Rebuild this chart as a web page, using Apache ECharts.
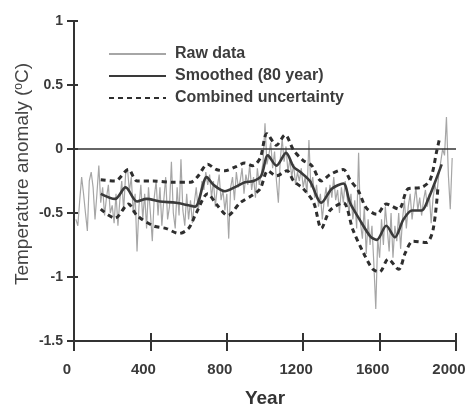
<!DOCTYPE html>
<html>
<head>
<meta charset="utf-8">
<script src="https://cdn.jsdelivr.net/npm/echarts@6/dist/echarts.min.js"></script>
<style>
  html, body { margin: 0; padding: 0; background: #fff; }
  #chart { width: 468px; height: 408px; }
</style>
</head>
<body>
<div id="chart"></div>
<script>
// raw reconstruction, one value every 10 years (10 .. 1980)
const rawStart = 10;
const rawStep = 10;
const rawValues = [
  -0.55, -0.60, -0.40, -0.22, -0.35, -0.50, -0.64, -0.25, -0.18, -0.30,
  -0.55, -0.35, -0.13, -0.42, -0.30, -0.52, -0.38, -0.28, -0.50, -0.44,
  -0.58, -0.35, -0.60, -0.40, -0.25, -0.48, -0.20, -0.15, -0.33, -0.22,
  -0.50, -0.35, -0.80, -0.45, -0.28, -0.55, -0.35, -0.62, -0.30, -0.50,
  -0.72, -0.38, -0.25, -0.52, -0.30, -0.60, -0.40, -0.22, -0.55, -0.45,
  -0.10, -0.50, -0.62, -0.30, -0.52, -0.08, -0.48, -0.60, -0.35, -0.55,
  -0.40, -0.58, -0.42, -0.30, -0.48, -0.38, -0.25, -0.32, -0.18, -0.28,
  -0.20, -0.38, -0.25, -0.45, -0.30, -0.20, -0.40, -0.32, -0.48, -0.35,
  -0.70, -0.30, -0.22, -0.40, -0.18, -0.30, -0.25, -0.15, -0.35, -0.20,
  -0.28, -0.12, -0.32, -0.22, -0.38, -0.15, -0.28, -0.20, -0.10, 0.20,
  -0.12, -0.05, 0.05, -0.15, -0.02, -0.25, -0.42, -0.08, 0.08, -0.10,
  0.02, -0.18, -0.08, -0.22, -0.12, -0.28, -0.18, -0.25, -0.15, -0.30,
  -0.22, -0.35, 0.07, -0.30, -0.22, -0.38, -0.28, -0.45, -0.35, -0.55,
  -0.40, -0.30, -0.45, -0.28, -0.38, -0.22, -0.40, -0.32, -0.50, -0.30,
  -0.42, -0.25, -0.38, -0.50, -0.35, -0.55, -0.40, -0.62, -0.03, -0.58,
  -0.70, -0.45, -0.82, -0.55, -0.75, -0.60, -0.90, -1.25, -0.70, -0.85,
  -0.55, -0.75, -0.45, -0.62, -0.80, -0.50, -0.85, -0.60, -0.72, -0.50,
  -0.78, -0.55, -0.40, -0.62, -0.45, -0.35, -0.55, -0.42, -0.30, -0.48,
  -0.38, -0.52, -0.40, -0.32, -0.45, -0.35, -0.58, -0.38, -0.28, -0.35,
  -0.20, -0.10, 0.00, -0.05, 0.25, -0.20, -0.47, -0.07
];

const smoothYears = [140, 215, 270, 330, 380, 450, 535, 600, 635, 695, 730, 790, 840, 895, 940, 980, 1015, 1060, 1110, 1150, 1185, 1235, 1295, 1350, 1410, 1445, 1495, 1550, 1585, 1635, 1680, 1725, 1770, 1820, 1855, 1890, 1925];
const smoothValues = [-0.35, -0.39, -0.30, -0.41, -0.39, -0.41, -0.42, -0.44, -0.45, -0.22, -0.28, -0.33, -0.30, -0.26, -0.25, -0.21, -0.05, -0.13, -0.03, -0.14, -0.18, -0.25, -0.42, -0.31, -0.27, -0.42, -0.55, -0.68, -0.71, -0.60, -0.69, -0.55, -0.48, -0.48, -0.39, -0.26, -0.12];

const upperYears = [140, 215, 285, 330, 415, 520, 610, 645, 700, 745, 790, 845, 895, 935, 975, 1010, 1060, 1105, 1150, 1200, 1245, 1295, 1340, 1410, 1445, 1490, 1530, 1585, 1635, 1700, 1750, 1820, 1865, 1900, 1915];
const upperValues = [-0.24, -0.25, -0.16, -0.25, -0.25, -0.26, -0.26, -0.22, -0.12, -0.16, -0.17, -0.14, -0.11, -0.13, -0.07, 0.12, 0.03, 0.11, -0.01, -0.09, -0.13, -0.25, -0.20, -0.16, -0.24, -0.33, -0.46, -0.51, -0.43, -0.47, -0.31, -0.30, -0.24, -0.01, 0.09];

const lowerYears = [140, 215, 285, 330, 415, 480, 550, 600, 640, 700, 750, 805, 870, 935, 975, 1015, 1060, 1115, 1150, 1200, 1255, 1295, 1340, 1410, 1460, 1515, 1565, 1600, 1645, 1700, 1735, 1775, 1845, 1880, 1905];
const lowerValues = [-0.47, -0.54, -0.43, -0.52, -0.60, -0.62, -0.66, -0.62, -0.50, -0.35, -0.44, -0.52, -0.42, -0.36, -0.31, -0.17, -0.21, -0.17, -0.25, -0.31, -0.42, -0.62, -0.48, -0.42, -0.63, -0.81, -0.94, -0.96, -0.86, -0.94, -0.81, -0.72, -0.73, -0.63, -0.31];

const yearTicks = [0, 400, 800, 1200, 1600, 2000];
const anomalyTicks = [-1.5, -1, -0.5, 0, 0.5, 1];

const pairs = (xs, ys) => xs.map((x, i) => [x, ys[i]]);
const rawData = rawValues.map((v, i) => [rawStart + i * rawStep, v]);

const axisColor = '#333';
const font = 'Liberation Sans, Arial, sans-serif';

const chart = echarts.init(document.getElementById('chart'));
chart.setOption({
  animation: false,
  backgroundColor: '#fff',
  grid: { left: 74, right: 12, top: 21, bottom: 67, outerBoundsMode: 'none', containLabel: false },
  legend: {
    orient: 'vertical',
    left: 103,
    top: 41,
    itemWidth: 57,
    itemHeight: 14,
    itemGap: 6,
    itemStyle: { opacity: 0 },
    data: ['Raw data', 'Smoothed (80 year)', 'Combined uncertainty'],
    textStyle: { fontFamily: font, fontSize: 16, fontWeight: 'bold', color: '#3c3c3c', lineHeight: 16, padding: [0, 0, 0, 4] }
  },
  xAxis: [{
    type: 'value',
    min: 0, max: 2000, interval: 400,
    name: 'Year',
    nameLocation: 'middle',
    nameGap: 48,
    nameMoveOverlap: false,
    nameTextStyle: { fontFamily: font, fontSize: 19, fontWeight: 'bold', color: '#333' },
    splitLine: { show: false },
    axisLine: { onZero: false, lineStyle: { color: axisColor, width: 2 } },
    axisTick: { length: 10, lineStyle: { color: axisColor, width: 2 } },
    axisLabel: {
      margin: 21, fontFamily: font, fontSize: 15, fontWeight: 'bold', color: '#3a3a3a',
      padding: [0, 14, 0, 0],
      formatter: v => yearTicks.includes(v) ? String(v) : ''
    }
  }, {
    type: 'value', position: 'bottom',
    min: 0, max: 2000, interval: 400,
    splitLine: { show: false },
    axisLine: { show: false, onZero: false },
    axisLabel: { show: false },
    axisTick: { inside: true, length: 8, lineStyle: { color: axisColor, width: 2 } }
  }],
  yAxis: [{
    type: 'value',
    min: -1.5, max: 1, interval: 0.5,
    name: 'Temperature anomaly ({sup|o}C)',
    nameLocation: 'middle',
    nameGap: 42,
    nameMoveOverlap: false,
    nameTextStyle: {
      fontFamily: font, fontSize: 19, color: '#444',
      padding: [0, 0, 0, 14],
      rich: { sup: { fontFamily: font, fontSize: 12, color: '#444', verticalAlign: 'top', lineHeight: 12 } }
    },
    splitLine: { show: false },
    axisLine: { onZero: false, lineStyle: { color: axisColor, width: 2 } },
    axisTick: { length: 7, lineStyle: { color: axisColor, width: 2 } },
    axisLabel: {
      margin: 11, fontFamily: font, fontSize: 14, fontWeight: 'bold', color: '#3a3a3a',
      formatter: v => anomalyTicks.includes(v) ? String(v) : ''
    }
  }, {
    type: 'value', position: 'left',
    min: -1.5, max: 1, interval: 0.5,
    splitLine: { show: false },
    axisLine: { show: false, onZero: false },
    axisLabel: { show: false },
    axisTick: { inside: true, length: 4, lineStyle: { color: axisColor, width: 2 } }
  }],
  series: [
    {
      name: 'Raw data',
      type: 'line',
      data: rawData,
      symbol: 'none',
      lineStyle: { color: '#a6a6a6', width: 1.2 },
      itemStyle: { color: '#a6a6a6' },
      markLine: {
        silent: true,
        symbol: 'none',
        label: { show: false },
        lineStyle: { color: '#333', width: 1.5, type: 'solid' },
        data: [{ yAxis: 0 }]
      },
      z: 1
    },
    {
      name: 'Smoothed (80 year)',
      type: 'line',
      data: pairs(smoothYears, smoothValues),
      symbol: 'none',
      smooth: 0.3,
      lineStyle: { color: '#3a3a3a', width: 2.6 },
      itemStyle: { color: '#3a3a3a' },
      z: 3
    },
    {
      name: 'Combined uncertainty',
      type: 'line',
      data: pairs(upperYears, upperValues),
      symbol: 'none',
      smooth: 0.3,
      lineStyle: { color: '#2e2e2e', width: 3, type: [5, 4] },
      itemStyle: { color: '#2e2e2e' },
      z: 4
    },
    {
      name: 'Combined uncertainty',
      type: 'line',
      data: pairs(lowerYears, lowerValues),
      symbol: 'none',
      smooth: 0.3,
      lineStyle: { color: '#2e2e2e', width: 3, type: [5, 4] },
      itemStyle: { color: '#2e2e2e' },
      z: 4
    }
  ]
});
</script>
</body>
</html>
